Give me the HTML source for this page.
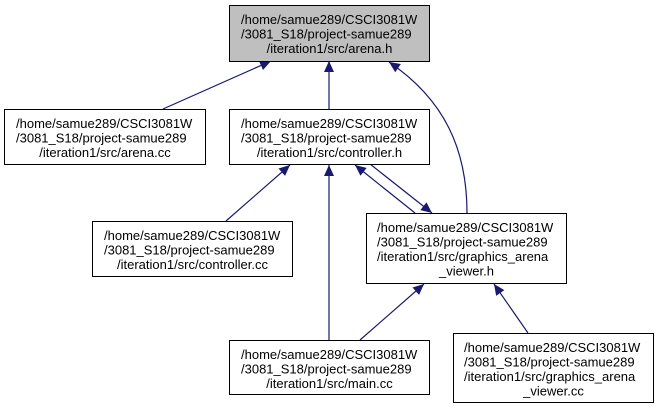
<!DOCTYPE html>
<html><head><meta charset="utf-8"><style>
html,body{margin:0;padding:0;background:#fff;width:659px;height:408px;overflow:hidden}
svg text{font-family:"Liberation Sans",Helvetica,Arial,sans-serif;font-size:13px;fill:#000}
</style></head><body>
<svg width="659" height="408" viewBox="0 0 659 408" xmlns="http://www.w3.org/2000/svg">
<defs>
<marker id="a" markerWidth="12" markerHeight="10" refX="11" refY="5" orient="auto" markerUnits="userSpaceOnUse">
<path d="M0,0 L11,5 L0,10 Z" fill="#191970"/>
</marker>
</defs>
<g stroke="#191970" stroke-width="1.2" fill="none" marker-end="url(#a)">
<line x1="163" y1="109" x2="271" y2="61"/>
<line x1="329" y1="109" x2="329" y2="61"/>
<path d="M467,213 C467,150 445,100 389,62"/>
<line x1="226" y1="221" x2="290" y2="165"/>
<line x1="329" y1="340" x2="329" y2="165"/>
<line x1="415" y1="213" x2="355" y2="165"/>
<line x1="370" y1="164" x2="432" y2="213"/>
<line x1="360" y1="340" x2="424" y2="284"/>
<line x1="528" y1="333" x2="494" y2="284"/>
</g>
<g stroke="#000" stroke-width="1">
<rect x="229.5" y="5.5" width="200" height="56" fill="#bfbfbf"/>
<rect x="4.5" y="109.5" width="201" height="55" fill="#fff"/>
<rect x="229.5" y="109.5" width="200" height="55" fill="#fff"/>
<rect x="92.5" y="221.5" width="200" height="55" fill="#fff"/>
<rect x="366.5" y="213.5" width="200" height="70" fill="#fff"/>
<rect x="229.5" y="340.5" width="200" height="54" fill="#fff"/>
<rect x="453.5" y="333.5" width="200" height="69" fill="#fff"/>
</g>
<text x="241" y="24">/home/samue289/CSCI3081W</text>
<text x="241" y="38.5">/3081_S18/project-samue289</text>
<text x="329.5" y="53" text-anchor="middle">/iteration1/src/arena.h</text>

<text x="16" y="128">/home/samue289/CSCI3081W</text>
<text x="16" y="142.5">/3081_S18/project-samue289</text>
<text x="105" y="157" text-anchor="middle">/iteration1/src/arena.cc</text>

<text x="241" y="128">/home/samue289/CSCI3081W</text>
<text x="241" y="142.5">/3081_S18/project-samue289</text>
<text x="329.5" y="157" text-anchor="middle">/iteration1/src/controller.h</text>

<text x="104" y="240">/home/samue289/CSCI3081W</text>
<text x="104" y="254.5">/3081_S18/project-samue289</text>
<text x="192.5" y="269" text-anchor="middle">/iteration1/src/controller.cc</text>

<text x="377" y="232">/home/samue289/CSCI3081W</text>
<text x="377" y="246.5">/3081_S18/project-samue289</text>
<text x="377" y="261">/iteration1/src/graphics_arena</text>
<text x="466.5" y="275.5" text-anchor="middle">_viewer.h</text>

<text x="241" y="359">/home/samue289/CSCI3081W</text>
<text x="241" y="373.5">/3081_S18/project-samue289</text>
<text x="329.5" y="388" text-anchor="middle">/iteration1/src/main.cc</text>

<text x="464" y="352">/home/samue289/CSCI3081W</text>
<text x="464" y="366.5">/3081_S18/project-samue289</text>
<text x="464" y="381">/iteration1/src/graphics_arena</text>
<text x="553.5" y="395.5" text-anchor="middle">_viewer.cc</text>
</svg>
</body></html>
